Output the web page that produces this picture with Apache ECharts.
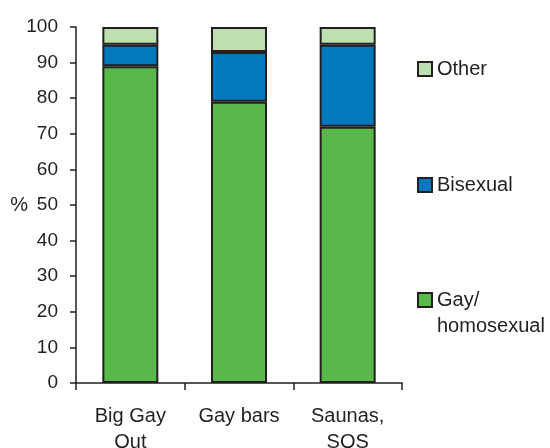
<!DOCTYPE html>
<html><head><meta charset="utf-8">
<script src="https://cdn.jsdelivr.net/npm/echarts@6/dist/echarts.min.js"></script>
<style>html,body{margin:0;padding:0;background:#fff}#c{width:550px;height:448px}</style>
</head><body><div id="c"></div>
<script>
const categories = ['Big Gay\nOut', 'Gay bars', 'Saunas,\nSOS'];
const gay = [89, 79, 72];
const bisexual = [6, 14, 23];
const other = [5, 7, 5];
const yTicks = [0, 10, 20, 30, 40, 50, 60, 70, 80, 90, 100];

const font = 'Liberation Sans, Arial, sans-serif';
const ink = '#231f20';
const chart = echarts.init(document.getElementById('c'));
const mk = (name, data, color) => ({
  name, type: 'bar', stack: 'a', data, barWidth: 56,
  itemStyle: { color, borderColor: ink, borderWidth: 2 }
});
const leg = (name, top, fmt) => ({
  data: [name], orient: 'vertical', left: 412, top, icon: 'rect',
  itemWidth: 14, itemHeight: 14, itemGap: 4, selectedMode: false,
  formatter: fmt || '{name}',
  textStyle: { fontFamily: font, fontSize: 20, color: ink, lineHeight: 26, padding: [0, 0, 0, 0] }
});
chart.setOption({
  animation: false,
  grid: { left: 76, right: 148, top: 27, bottom: 65, outerBoundsMode: 'none', containLabel: false },
  legend: [
    leg('Other', 51),
    leg('Bisexual', 167),
    leg('Gay/\nhomosexual', 256, (n) => ' \n' + n)
  ],
  xAxis: {
    type: 'category', data: categories,
    axisLine: { lineStyle: { color: ink, width: 1.5 } },
    axisTick: { show: true, length: 7, lineStyle: { color: ink, width: 1.5 } },
    axisLabel: { fontFamily: font, fontSize: 20, color: ink, margin: 20, lineHeight: 26 }
  },
  yAxis: {
    type: 'value', min: yTicks[0], max: yTicks[yTicks.length - 1], interval: 10,
    name: '%', nameLocation: 'middle', nameRotate: 0, nameGap: 48, nameMoveOverlap: false,
    nameTextStyle: { fontFamily: font, fontSize: 20, color: ink, padding: [0, 0, 18, 0] },
    splitLine: { show: false },
    axisLine: { show: true, lineStyle: { color: ink, width: 1.5 } },
    axisTick: { show: true, length: 6, lineStyle: { color: ink, width: 1.5 } },
    axisLabel: { fontFamily: font, fontSize: 19, color: ink, margin: 18 }
  },
  series: [
    mk('Gay/\nhomosexual', gay, '#58b84a'),
    mk('Bisexual', bisexual, '#0079bf'),
    mk('Other', other, '#bde0b0')
  ]
});
</script></body></html>
